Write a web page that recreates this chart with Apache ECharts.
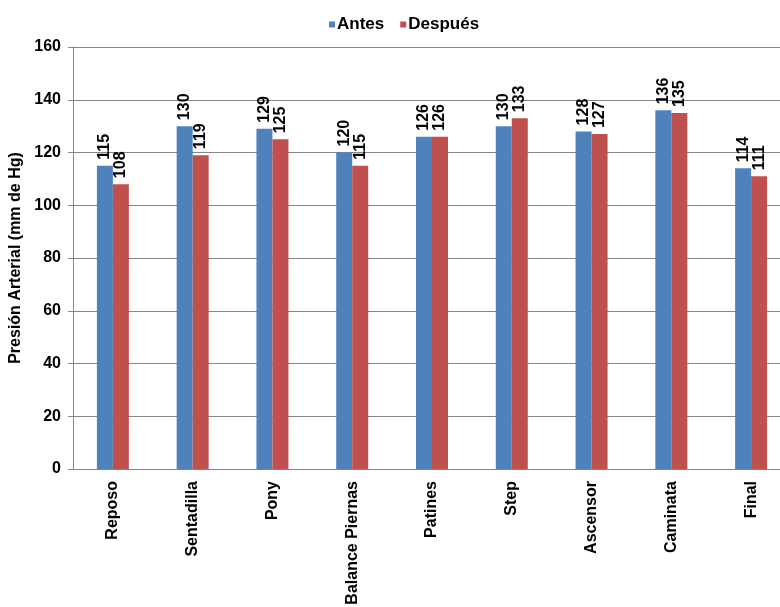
<!DOCTYPE html>
<html>
<head>
<meta charset="utf-8">
<script src="https://cdn.jsdelivr.net/npm/echarts@6/dist/echarts.min.js"></script>
<style>html,body{margin:0;padding:0;background:#fff}#c{width:780px;height:607px}</style>
</head>
<body>
<div id="c"></div>
<script>
const categories = ["Reposo","Sentadilla","Pony","Balance Piernas","Patines","Step","Ascensor","Caminata","Final"];
const antes = [115,130,129,120,126,130,128,136,114];
const despues = [108,119,125,115,126,133,127,135,111];
const yTicks = {min:0, max:160, interval:20};
const seriesNames = ["Antes","Después"];
const yTitle = "Presión Arterial (mm de Hg)";

const FONT = '"Liberation Sans", Arial, sans-serif';
const chart = echarts.init(document.getElementById('c'), null, {renderer:'canvas'});
const valLabel = {
  show: true, position: 'top', rotate: 90, distance: 6,
  align: 'left', verticalAlign: 'middle',
  color: '#000', fontFamily: FONT, fontWeight: 'bold', fontSize: 16
};
chart.setOption({
  animation: false,
  backgroundColor: '#fff',
  legend: {
    data: seriesNames, top: 11, left: 324,
    itemWidth: 6, itemHeight: 6, itemGap: 16, icon: 'rect',
    textStyle: {color:'#000', fontFamily: FONT, fontWeight:'bold', fontSize: 17, padding:[0,0,0,-3]}
  },
  grid: {left: 73, width: 718, top: 47, bottom: 138, containLabel: false, outerBoundsMode: 'none'},
  xAxis: {
    type: 'category', data: categories,
    axisLine: {show: true, lineStyle: {color: '#868686', width: 1}},
    axisTick: {show: false},
    axisLabel: {rotate: 90, margin: 12, color: '#000', fontFamily: FONT, fontWeight: 'bold', fontSize: 16}
  },
  yAxis: {
    type: 'value', min: yTicks.min, max: yTicks.max, interval: yTicks.interval,
    name: yTitle, nameLocation: 'middle', nameGap: 48, nameRotate: 90,
    nameTextStyle: {color:'#000', fontFamily: FONT, fontWeight:'bold', fontSize: 16},
    axisLine: {show: true, lineStyle: {color: '#868686', width: 1}},
    axisTick: {show: true, length: 5, lineStyle: {color: '#868686'}},
    axisLabel: {margin: 12, color: '#000', fontFamily: FONT, fontWeight: 'bold', fontSize: 16},
    splitLine: {show: true, lineStyle: {color: '#868686', width: 1}}
  },
  series: [
    {name: seriesNames[0], type: 'bar', data: antes, barWidth: 16, barGap: '0%',
     itemStyle: {color: '#4F81BD'}, label: valLabel},
    {name: seriesNames[1], type: 'bar', data: despues, barWidth: 16, barGap: '0%',
     itemStyle: {color: '#C0504D'}, label: valLabel}
  ]
});
</script>
</body>
</html>
